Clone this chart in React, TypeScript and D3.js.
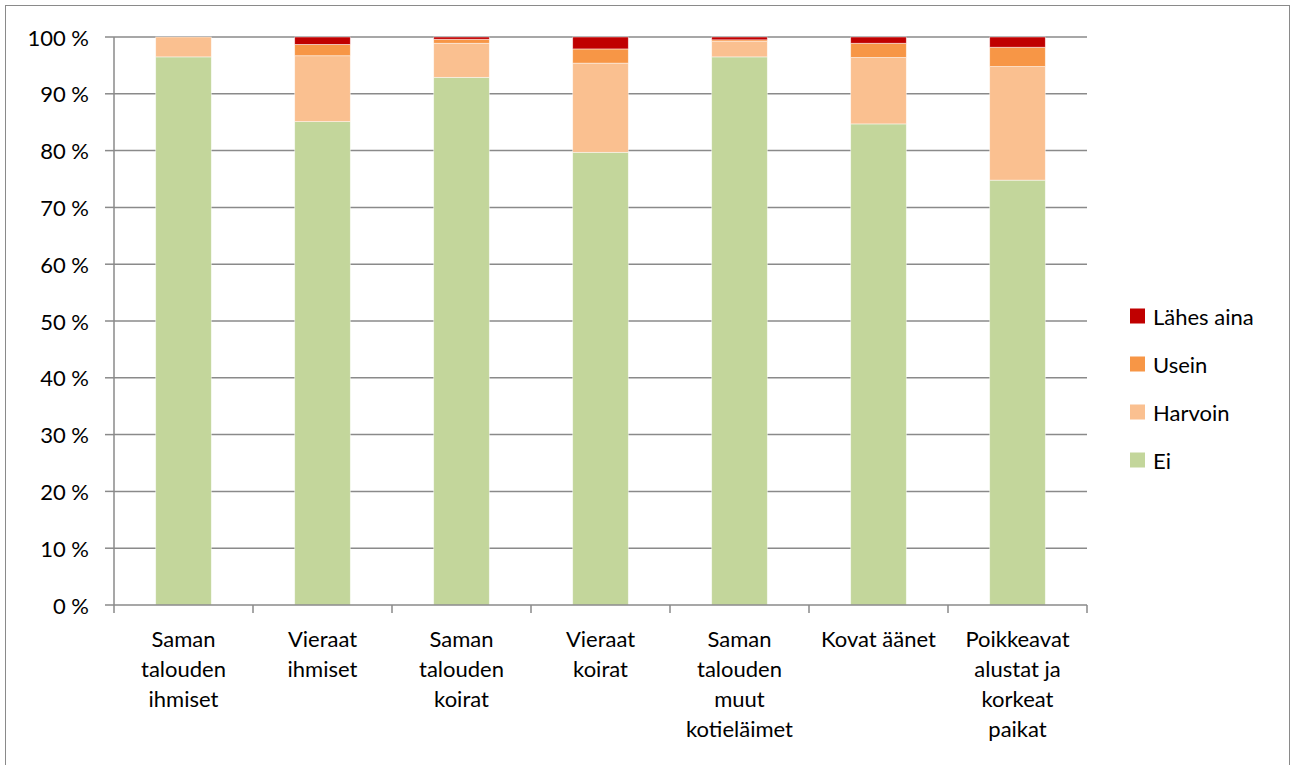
import React from "react";
import * as d3 from "d3";

const categories: string[][] = [
  ["Saman", "talouden", "ihmiset"],
  ["Vieraat", "ihmiset"],
  ["Saman", "talouden", "koirat"],
  ["Vieraat", "koirat"],
  ["Saman", "talouden", "muut", "kotieläimet"],
  ["Kovat äänet"],
  ["Poikkeavat", "alustat ja", "korkeat", "paikat"],
];

const seriesNames = ["Ei", "Harvoin", "Usein", "Lähes aina"];
const seriesColors = ["#C3D69B", "#FAC090", "#F79646", "#C00000"];

const ei = [96.5, 85.1, 92.9, 79.7, 96.5, 84.7, 74.8];
const harvoin = [3.5, 11.6, 6.0, 15.7, 2.7, 11.7, 20.0];
const usein = [0, 2.0, 0.7, 2.5, 0.3, 2.5, 3.4];
const lahesAina = [0, 1.3, 0.4, 2.1, 0.5, 1.1, 1.8];

const yTicks = [0, 10, 20, 30, 40, 50, 60, 70, 80, 90, 100];

const FONT = "Lato, 'Open Sans', sans-serif";

export default function App() {
  const W = 1292;
  const H = 765;
  const left = 114;
  const right = 1087;
  const top = 37;
  const bottom = 605;

  const x = d3
    .scaleBand<number>()
    .domain(categories.map((_, i) => i))
    .range([left, right])
    .paddingInner(0.6)
    .paddingOuter(0.3);
  const xOuter = d3
    .scaleBand<number>()
    .domain(categories.map((_, i) => i))
    .range([left, right]);
  const y = d3.scaleLinear().domain([0, 100]).range([bottom, top]);

  const rows = categories.map((_, i) => ({
    Ei: ei[i],
    Harvoin: harvoin[i],
    Usein: usein[i],
    "Lähes aina": lahesAina[i],
  }));
  const stack = d3.stack<any>().keys(seriesNames);
  const stacked = stack(rows);

  const legendItems = [...seriesNames].reverse();
  const legendColors = [...seriesColors].reverse();

  return (
    <svg
      width={W}
      height={H}
      style={{ position: "absolute", left: 0, top: 0, background: "#fff" }}
      fontFamily={FONT}
    >
      <rect x={5.5} y={5.5} width={1284} height={765} fill="#fff" stroke="#8a8a8a" strokeWidth={1} />
      {/* gridlines */}
      {yTicks.slice(1).map((t) => (
        <line key={t} x1={left} x2={right} y1={y(t)} y2={y(t)} stroke="#8a8a8a" strokeWidth={1.5} />
      ))}
      {/* bars */}
      {stacked.map((s, si) =>
        s.map((d, i) => (
          <rect
            key={`${si}-${i}`}
            x={x(i)}
            width={x.bandwidth()}
            y={y(d[1])}
            height={Math.max(0, y(d[0]) - y(d[1]))}
            fill={seriesColors[si]}
            stroke="#ffffff"
            strokeOpacity={0.6}
            strokeWidth={0.75}
          />
        ))
      )}
      {/* y axis */}
      <line x1={left} x2={left} y1={top} y2={bottom} stroke="#8a8a8a" strokeWidth={1.5} />
      {yTicks.map((t) => (
        <g key={t}>
          <line x1={left - 9} x2={left} y1={y(t)} y2={y(t)} stroke="#8a8a8a" strokeWidth={1.5} />
          <text x={89} y={y(t)} textAnchor="end" dominantBaseline="central" fontSize={22} fill="#000">
            {`${t} %`}
          </text>
        </g>
      ))}
      {/* x axis */}
      <line x1={left} x2={right} y1={bottom} y2={bottom} stroke="#8a8a8a" strokeWidth={1.5} />
      {categories.map((_, i) => (
        <line
          key={i}
          x1={xOuter(i)! + xOuter.bandwidth()}
          x2={xOuter(i)! + xOuter.bandwidth()}
          y1={bottom}
          y2={bottom + 8}
          stroke="#8a8a8a"
          strokeWidth={1.5}
        />
      ))}
      <line x1={left} x2={left} y1={bottom} y2={bottom + 8} stroke="#8a8a8a" strokeWidth={1.5} />
      {categories.map((lines, i) => (
        <text
          key={i}
          x={xOuter(i)! + xOuter.bandwidth() / 2}
          textAnchor="middle"
          fontSize={22}
          fill="#000"
        >
          {lines.map((l, j) => (
            <tspan key={j} x={xOuter(i)! + xOuter.bandwidth() / 2} y={638 + j * 30} dominantBaseline="central">
              {l}
            </tspan>
          ))}
        </text>
      ))}
      {/* legend */}
      {legendItems.map((name, i) => (
        <g key={name}>
          <rect x={1130} y={316 + i * 48 - 7.5} width={15} height={15} fill={legendColors[i]} />
          <text x={1153} y={316 + i * 48} dominantBaseline="central" fontSize={22} fill="#000">
            {name}
          </text>
        </g>
      ))}
    </svg>
  );
}
